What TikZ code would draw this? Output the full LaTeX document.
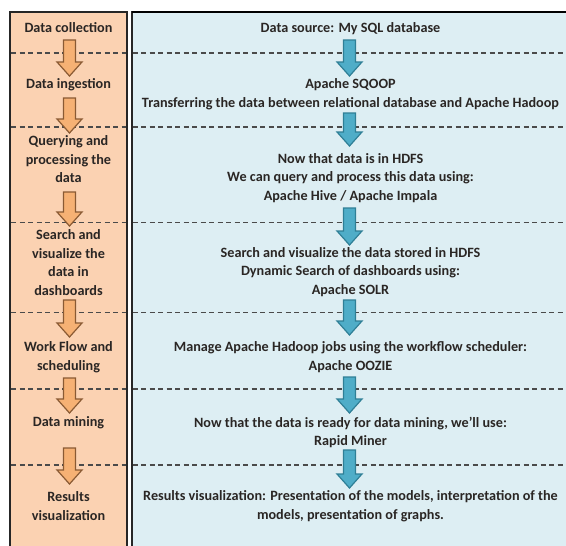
\documentclass[tikz,border=0pt]{standalone}
\usepackage{fontspec}
\setmainfont{Carlito}
\begin{document}
\begin{tikzpicture}[x=1pt,y=-1pt,
  lbl/.style={align=center,inner sep=0pt,text=txtc,font=\fontsize{14.2}{18.5}\selectfont\bfseries},
  sep/.style={draw=dashc,line width=1.3pt,dash pattern=on 5pt off 3.5pt},
  larrow/.style={draw=obrd,fill=ofill,line width=1.2pt,line join=miter},
  rarrow/.style={draw=bbrd,fill=bfill,line width=1.2pt,line join=miter}]
\definecolor{txtc}{HTML}{2A2624}
\definecolor{dashc}{HTML}{4A4A4A}
\definecolor{lfill}{HTML}{FBD2B2}
\definecolor{rfill}{HTML}{DDEEF3}
\definecolor{ofill}{HTML}{F6B174}
\definecolor{obrd}{HTML}{8A5A33}
\definecolor{bfill}{HTML}{4FADC8}
\definecolor{bbrd}{HTML}{2F7F96}
\useasboundingbox (0,0) rectangle (566,546);
\clip (0,0) rectangle (566,546);
\fill[white] (0,0) rectangle (566,546);
% boxes
\draw[fill=lfill,draw=black!85,line width=2pt] (10,12) rectangle (127,560);
\draw[fill=rfill,draw=black!85,line width=2pt] (131.5,12) rectangle (580,560);
\draw[black,line width=2.4pt] (131.5,12) -- (566,12);
% separators
\foreach \y in {53,127,222.5,312.5,389,465}{
  \draw[sep] (11,\y) -- (126,\y);
  \draw[sep] (132.5,\y) -- (566,\y);
}
% arrows
\newcommand\blockarr[4]{%
  \draw[#4] (#1-6,#2) -- (#1+6,#2) -- (#1+6,#3-14) -- (#1+12.5,#3-14) -- (#1,#3) -- (#1-12.5,#3-14) -- (#1-6,#3-14) -- cycle;}
\blockarr{69.5}{40}{76}{larrow}
\blockarr{69.5}{98}{133}{larrow}
\blockarr{69.5}{192}{226}{larrow}
\blockarr{69.5}{300}{337}{larrow}
\blockarr{69.5}{378}{413}{larrow}
\blockarr{69.5}{448}{484}{larrow}
\blockarr{349.5}{40}{76}{rarrow}
\blockarr{349.5}{113}{146}{rarrow}
\blockarr{349.5}{208}{245}{rarrow}
\blockarr{349.5}{300}{335}{rarrow}
\blockarr{349.5}{377}{413}{rarrow}
\blockarr{349.5}{450}{488}{rarrow}
% left labels
\node[lbl] (l1) at (68.5,28) {Data collection};
\node[lbl] (l2) at (68.5,85) {Data ingestion};
\node[lbl] (l3) at (68.5,159.5) {Querying and\\processing the\\data};
\node[lbl] (l4) at (68.5,262.5) {Search and\\visualize the\\data in\\dashboards};
\node[lbl] (l5) at (68.5,357) {Work Flow and\\scheduling};
\node[lbl] (l6) at (68.5,423) {Data mining};
\node[lbl] (l7) at (68.5,506) {Results\\visualization};
% right labels
\node[lbl] (r1) at (350.5,29) {Data source: My SQL database};
\node[lbl] (r2) at (350.5,94) {Apache SQOOP\\Transferring the data between relational database and Apache Hadoop};
\node[lbl] (r3) at (350.5,178) {Now that data is in HDFS\\We can query and process this data using:\\Apache Hive / Apache Impala};
\node[lbl] (r4) at (350.5,272) {Search and visualize the data stored in HDFS\\Dynamic Search of dashboards using:\\Apache SOLR};
\node[lbl] (r5) at (350.5,357) {Manage Apache Hadoop jobs using the workflow scheduler:\\Apache OOZIE};
\node[lbl] (r6) at (350.5,432.5) {Now that the data is ready for data mining, we’ll use:\\Rapid Miner};
\node[lbl] (r7) at (350.5,506) {Results visualization: Presentation of the models, interpretation of the\\models, presentation of graphs.};
\end{tikzpicture}
\end{document}
